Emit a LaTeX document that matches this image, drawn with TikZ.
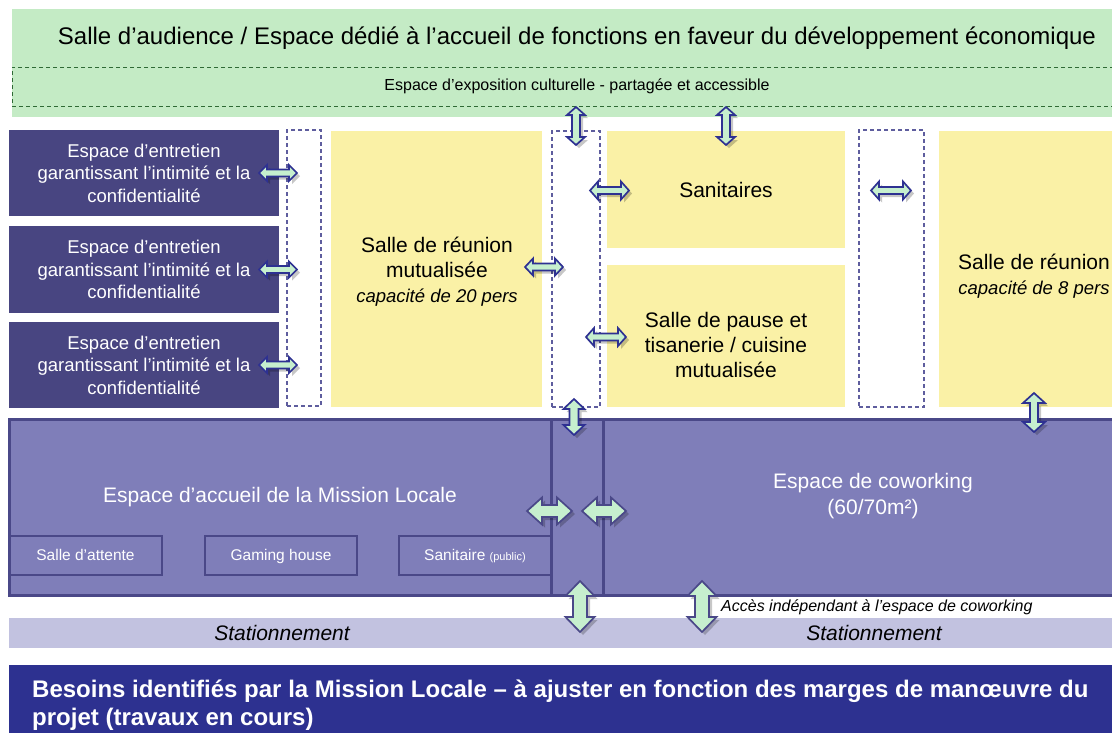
\documentclass[tikz,border=0pt]{standalone}
\usepackage{fontspec}
\setmainfont{Liberation Sans}
\usetikzlibrary{calc,shadows}

\definecolor{bandgreen}{HTML}{C4EBC5}
\definecolor{dashgreen}{HTML}{2F6A35}
\definecolor{roomdark}{HTML}{484581}
\definecolor{roomyellow}{HTML}{FAF1A6}
\definecolor{corrdash}{HTML}{5E5D9E}
\definecolor{bandpurple}{HTML}{7F7EB9}
\definecolor{borderpurple}{HTML}{4A4888}
\definecolor{parking}{HTML}{C2C2E0}
\definecolor{footerblue}{HTML}{2D3190}
\definecolor{arrowfill}{HTML}{C6EFCE}
\definecolor{arrowblue}{HTML}{2E3192}

\newcommand\CapFont{\fontsize{18.5}{22}\selectfont\itshape}

% horizontal block double arrow: #1 style, #2 left end, #3 right end, #4 head length, #5 head half width, #6 shaft half width
\newcommand\BlkArrH[6]{%
  \path[#1] let \p1=#2, \p2=#3 in
    (\x1,\y1) -- (\x1+#4pt,\y1+#5pt) -- (\x1+#4pt,\y1+#6pt) -- (\x2-#4pt,\y1+#6pt)
    -- (\x2-#4pt,\y1+#5pt) -- (\x2,\y1) -- (\x2-#4pt,\y1-#5pt) -- (\x2-#4pt,\y1-#6pt)
    -- (\x1+#4pt,\y1-#6pt) -- (\x1+#4pt,\y1-#5pt) -- cycle;}
% vertical block double arrow: #2 top end, #3 bottom end
\newcommand\BlkArrV[6]{%
  \path[#1] let \p1=#2, \p2=#3 in
    (\x1,\y1) -- (\x1+#5pt,\y1-#4pt) -- (\x1+#6pt,\y1-#4pt) -- (\x1+#6pt,\y2+#4pt)
    -- (\x1+#5pt,\y2+#4pt) -- (\x1,\y2) -- (\x1-#5pt,\y2+#4pt) -- (\x1-#6pt,\y2+#4pt)
    -- (\x1-#6pt,\y1-#4pt) -- (\x1-#5pt,\y1-#4pt) -- cycle;}

\tikzset{
  box/.style={inner sep=0pt, outer sep=0pt, anchor=north west},
  greenband/.style={box, fill=bandgreen},
  expobox/.style={box, draw=dashgreen, line width=0.9pt, dash pattern=on 4pt off 3pt,
    font=\fontsize{16}{19}\selectfont},
  darkroom/.style={box, fill=roomdark, text=white, align=center,
    font=\fontsize{18.5}{22.5}\selectfont},
  yellowroom/.style={box, fill=roomyellow, align=center, font=\fontsize{21}{25}\selectfont},
  corridor/.style={box, draw=corrdash, line width=1.1pt, dash pattern=on 4pt off 3pt},
  bandroom/.style={box, fill=bandpurple, draw=borderpurple, line width=3pt},
  subroom/.style={box, draw=borderpurple, line width=2pt, text=white,
    text height=12pt, text depth=2pt, font=\fontsize{15.5}{18}\selectfont},
  whitetext/.style={text=white, align=center, inner sep=0pt, font=\fontsize{21}{26}\selectfont},
  darktext/.style={align=center, inner sep=0pt, font=\fontsize{21}{25}\selectfont},
  blockarrow/.style={fill=arrowfill, draw=arrowblue, line width=1.7pt, line join=miter,
    drop shadow={shadow xshift=3pt, shadow yshift=-3pt, fill=black, opacity=0.22}},
  blockarrowP/.style={blockarrow, draw=borderpurple},
}

\begin{document}
\begin{tikzpicture}[x=1pt,y=-1pt]
\useasboundingbox (0,0) rectangle (1112,732);
\clip (0,0) rectangle (1112,732);

% top band
\node[greenband, minimum width=1130pt, minimum height=108pt] (audience) at (12,9) {};
\node[inner sep=0pt, font=\fontsize{24}{28}\selectfont] (tAudience) at (577,38)
  {Salle d’audience / Espace dédié à l’accueil de fonctions en faveur du développement économique};
\node[expobox, minimum width=1130pt, minimum height=39pt] (expo) at (12,67)
  {Espace d’exposition culturelle - partagée et accessible};

% left interview rooms
\node[darkroom, minimum width=270pt, minimum height=86pt] (e1) at (9,130)
  {Espace d’entretien\\garantissant l’intimité et la\\confidentialité};
\node[darkroom, minimum width=270pt, minimum height=87pt] (e2) at (9,226)
  {Espace d’entretien\\garantissant l’intimité et la\\confidentialité};
\node[darkroom, minimum width=270pt, minimum height=86pt] (e3) at (9,322)
  {Espace d’entretien\\garantissant l’intimité et la\\confidentialité};

% corridors
\node[corridor, minimum width=34pt, minimum height=276pt] (c1) at (287,130) {};
\node[corridor, minimum width=48pt, minimum height=276pt] (c2) at (552,131) {};
\node[corridor, minimum width=65pt, minimum height=277pt] (c3) at (859,130) {};

% yellow rooms
\node[yellowroom, minimum width=211pt, minimum height=276pt] (reunion20) at (331,131) {};
\node[darktext] (tReunion20) at (437,272)
  {Salle de réunion\\mutualisée\\{\CapFont capacité de 20 pers}};
\node[yellowroom, minimum width=238pt, minimum height=117pt] (sanit) at (607,131) {Sanitaires};
\node[yellowroom, minimum width=238pt, minimum height=142pt] (pause) at (607,265) {};
\node[darktext] (tPause) at (726,345) {Salle de pause et\\tisanerie / cuisine\\mutualisée};
\node[yellowroom, minimum width=190pt, minimum height=276pt] (reunion8) at (939,131) {};
\node[darktext] (tReunion8) at (1034,276) {Salle de réunion\\{\CapFont capacité de 8 pers}};

% bottom band
\node[bandroom, minimum width=542pt, minimum height=176pt] (accueil) at (9,419) {};
\node[bandroom, minimum width=52pt, minimum height=176pt] (bcorr) at (551,419) {};
\node[bandroom, minimum width=540pt, minimum height=176pt] (cowork) at (603,419) {};
\node[whitetext] (tAccueil) at (280,497) {Espace d’accueil de la Mission Locale};
\node[whitetext] (tCowork) at (873,496) {Espace de coworking\\(60/70m²)};
\node[subroom, minimum width=153pt, minimum height=39pt] (attente) at (9,536) {Salle d’attente};
\node[subroom, minimum width=152pt, minimum height=39pt] (gaming) at (205,536) {Gaming house};
\node[subroom, minimum width=152pt, minimum height=39pt] (sanpub) at (399,536)
  {Sanitaire {\fontsize{11}{13}\selectfont(public)}};

% parking
\node[box, fill=parking, minimum width=1130pt, minimum height=30pt] (parking) at (9,618) {};
\node[inner sep=0pt, font=\fontsize{21}{25}\selectfont\itshape] (tPark1) at (282,633) {Stationnement};
\node[inner sep=0pt, font=\fontsize{21}{25}\selectfont\itshape] (tPark2) at (874,633) {Stationnement};
\node[inner sep=0pt, anchor=west, font=\fontsize{16}{19}\selectfont\itshape] (tAcces) at (721,607)
  {Accès indépendant à l’espace de coworking};

% footer
\node[box, fill=footerblue, minimum width=1130pt, minimum height=80pt] (footer) at (9,665) {};
\node[inner sep=0pt, anchor=north west, align=left, text=white,
  font=\fontsize{24}{28}\selectfont\bfseries] (tFooter) at (32,680)
  {Besoins identifiés par la Mission Locale – à ajuster en fonction des marges de manœuvre du\\projet (travaux en cours)};

% arrows: interview rooms -> corridor 1
\BlkArrH{blockarrow}{($(e1.east)+(-20,0)$)}{($(c1.west)+(10,0)$)}{8}{8}{3.5}
\BlkArrH{blockarrow}{($(e2.east)+(-20,0)$)}{($(c1.west)+(10,0)$)}{8}{8}{3.5}
\BlkArrH{blockarrow}{($(e3.east)+(-20,0)$)}{($(c1.west)+(10,0)$)}{8}{8}{3.5}
% meeting room 20 -> corridor 2
\BlkArrH{blockarrow}{($(reunion20.east)+(-17,-2)$)}{($(c2.west)+(11,0)$)}{8}{8.5}{3.5}
% corridor 2 -> sanitaires / pause
\BlkArrH{blockarrow}{($(c2.east |- sanit.west)+(-10,1)$)}{($(sanit.west)+(22,0)$)}{8}{9}{3.5}
\BlkArrH{blockarrow}{($(c2.east |- pause.west)+(-14,1)$)}{($(pause.west)+(19,0)$)}{8}{9}{3.5}
% corridor 3
\BlkArrH{blockarrow}{($(c3.west |- sanit.west)+(12,1)$)}{($(c3.east |- sanit.west)+(-13,0)$)}{8}{9}{3.5}
% exposition -> corridor 2 / sanitaires
\BlkArrV{blockarrow}{($(expo.south -| c2.north)+(0,1)$)}{($(c2.north)+(0,14)$)}{8}{9}{4}
\BlkArrV{blockarrow}{($(expo.south -| sanit.north)+(0,1)$)}{($(sanit.north)+(0,14)$)}{8}{9}{4}
% corridor 2 -> bottom corridor
\BlkArrV{blockarrow}{($(c2.south)+(-2,-8)$)}{($(bcorr.north)+(0,16)$)}{10}{10.5}{4.5}
% meeting room 8 -> coworking
\BlkArrV{blockarrow}{($(reunion8.south)+(0,-14)$)}{($(reunion8.south |- cowork.north)+(0,13)$)}{10}{11}{4}
% bottom band horizontal
\BlkArrH{blockarrowP}{($(accueil.east)+(-24,4)$)}{($(bcorr.west)+(21,0)$)}{15}{13.5}{6}
\BlkArrH{blockarrowP}{($(bcorr.east)+(-21,4)$)}{($(cowork.west)+(23,0)$)}{15}{13.5}{6}
% to parking
\BlkArrV{blockarrowP}{($(bcorr.south)+(3,-14)$)}{($(bcorr.south |- parking.north)+(0,14)$)}{15}{14.5}{7}
\BlkArrV{blockarrowP}{($(cowork.south west)+(99,-14)$)}{($(cowork.south west |- parking.north)+(0,14)$)}{15}{14.5}{7}
\end{tikzpicture}
\end{document}
